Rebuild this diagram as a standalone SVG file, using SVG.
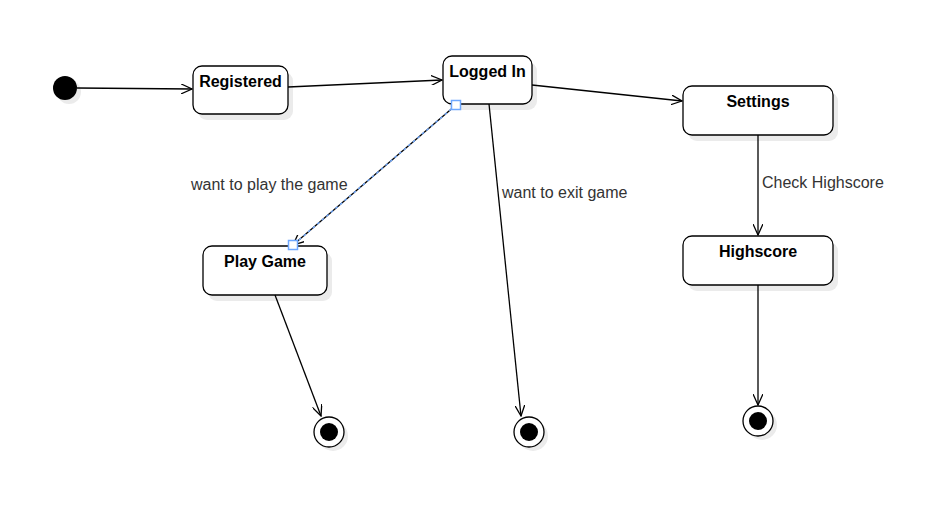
<svg xmlns="http://www.w3.org/2000/svg" width="942" height="523" viewBox="0 0 942 523">
<defs>
<marker id="arr" viewBox="0 0 12 10" refX="11" refY="5" markerWidth="12" markerHeight="10" markerUnits="userSpaceOnUse" orient="auto">
<path d="M0,0 L11,5 L0,10" fill="none" stroke="#000" stroke-width="1.3"/>
</marker>
</defs>
<style>
.st{fill:#fff;stroke:#000;stroke-width:1.3}
.sh{fill:#ebebeb;stroke:none}
.t{font-family:"Liberation Sans",Arial,sans-serif;font-size:16px;font-weight:bold;fill:#000;text-anchor:middle}
.lb{font-family:"Liberation Sans",Arial,sans-serif;font-size:16px;fill:#333}
.e{fill:none;stroke:#000;stroke-width:1.3;marker-end:url(#arr)}
</style>
<rect width="942" height="523" fill="#fff"/>
<g id="initial">
<circle class="sh" cx="69" cy="92" r="12"/>
<circle cx="65" cy="88" r="12" fill="#000"/>
</g>
<g id="registered">
<rect class="sh" x="198" y="72" width="95" height="48" rx="9"/>
<rect class="st" x="193" y="66" width="95" height="48" rx="9"/>
<text class="t" x="240.5" y="87">Registered</text>
</g>
<g id="loggedin">
<rect class="sh" x="448" y="62" width="89" height="48" rx="9"/>
<rect class="st" x="443" y="56" width="89" height="48" rx="9"/>
<text class="t" x="487.5" y="77">Logged In</text>
</g>
<g id="settings">
<rect class="sh" x="688" y="92" width="150" height="49" rx="9"/>
<rect class="st" x="683" y="86" width="150" height="49" rx="9"/>
<text class="t" x="758" y="107">Settings</text>
</g>
<g id="highscore">
<rect class="sh" x="688" y="242" width="150" height="49" rx="9"/>
<rect class="st" x="683" y="236" width="150" height="49" rx="9"/>
<text class="t" x="758" y="257">Highscore</text>
</g>
<g id="playgame">
<rect class="sh" x="208" y="252" width="124" height="49" rx="9"/>
<rect class="st" x="203" y="246" width="124" height="49" rx="9"/>
<text class="t" x="265" y="267">Play Game</text>
</g>
<g id="end1">
<circle class="sh" cx="333" cy="436" r="15"/>
<circle cx="329" cy="432" r="15" fill="#fff" stroke="#000" stroke-width="1.3"/>
<circle cx="329" cy="432" r="9" fill="#000"/>
</g>
<g id="end2">
<circle class="sh" cx="533" cy="436" r="15"/>
<circle cx="529" cy="432" r="15" fill="#fff" stroke="#000" stroke-width="1.3"/>
<circle cx="529" cy="432" r="9" fill="#000"/>
</g>
<g id="end3">
<circle class="sh" cx="762" cy="425" r="15"/>
<circle cx="758" cy="421" r="15" fill="#fff" stroke="#000" stroke-width="1.3"/>
<circle cx="758" cy="421" r="9" fill="#000"/>
</g>
<g id="connectors">
<line class="e" x1="77" y1="88" x2="192" y2="89"/>
<line class="e" x1="288" y1="87" x2="442" y2="80"/>
<line class="e" x1="532" y1="85" x2="682" y2="101"/>
<line class="e" x1="456" y1="105" x2="293" y2="245"/>
<line x1="456" y1="105" x2="293" y2="245" stroke="#6fa8ff" stroke-width="1.3" stroke-dasharray="3,3"/>
<rect x="451.5" y="100.5" width="9" height="9" fill="#fff" stroke="#6fa8ff" stroke-width="1.5"/>
<rect x="288.5" y="240.5" width="9" height="9" fill="#fff" stroke="#6fa8ff" stroke-width="1.5"/>
<line class="e" x1="489" y1="104" x2="521" y2="416"/>
<line class="e" x1="275" y1="295" x2="321" y2="416"/>
<line class="e" x1="758" y1="135" x2="758" y2="235"/>
<line class="e" x1="758" y1="285" x2="758" y2="405"/>
<text class="lb" x="191" y="190">want to play the game</text>
<text class="lb" x="502" y="198">want to exit game</text>
<rect x="760" y="173" width="126" height="20" fill="#fff"/>
<text class="lb" x="762" y="188">Check Highscore</text>
</g>
</svg>
